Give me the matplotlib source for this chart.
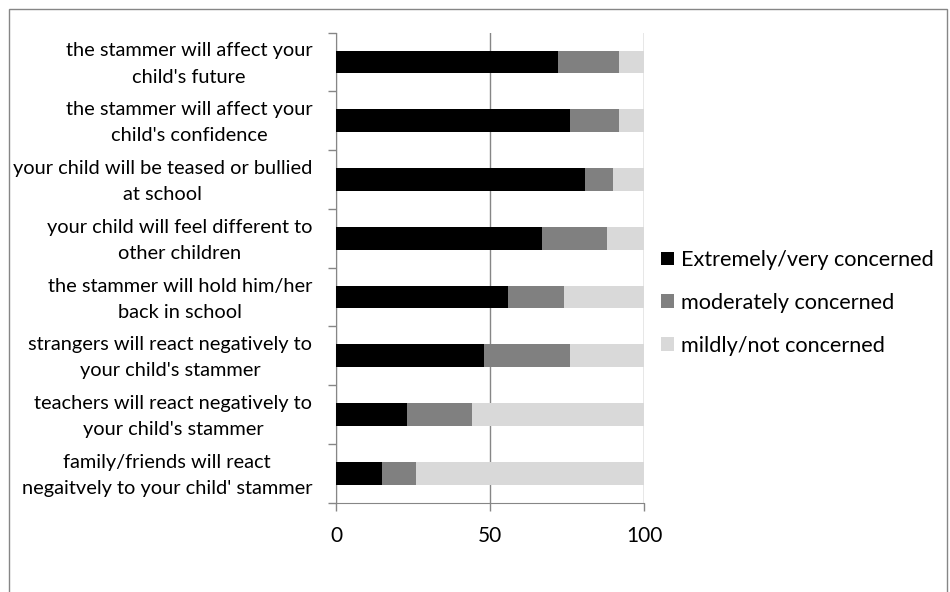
import matplotlib
matplotlib.use("Agg")
import matplotlib.pyplot as plt
import matplotlib.transforms as mtransforms
from matplotlib.patches import Patch, Rectangle
import numpy as np

plt.rcParams['font.family'] = ['Lato', 'DejaVu Sans']

# concerns, top to bottom
concerns = [
    "the stammer will affect your\nchild's future",
    "the stammer will affect your\nchild's confidence",
    "your child will be teased or bullied\nat school",
    "your child will feel different to\nother children",
    "the stammer will hold him/her\nback in school",
    "strangers will react negatively to\nyour child's stammer",
    "teachers will react negatively to\nyour child's stammer",
    "family/friends will react\nnegaitvely to your child' stammer",
]
extreme = [72, 76, 81, 67, 56, 48, 23, 15]
moderate = [20, 16, 9, 21, 18, 28, 21, 11]
mild = [8, 8, 10, 12, 26, 24, 56, 74]

series = ["Extremely/very concerned", "moderately concerned", "mildly/not concerned"]
colours = ["#000000", "#808080", "#d9d9d9"]

fig = plt.figure(figsize=(9.5, 5.92), dpi=100)
ax = fig.add_axes([336 / 950, 1 - 502.7 / 592, 308 / 950, (502.7 - 32.6) / 592])

y = np.arange(len(concerns))
left = np.zeros(len(concerns))
for vals, col in zip([extreme, moderate, mild], colours):
    ax.barh(y, vals, left=left, height=0.39, color=col, zorder=3)
    left += np.array(vals)

ax.set_xlim(0, 100)
ax.set_ylim(len(concerns) - 0.5, -0.5)
ax.set_xticks([0, 50, 100])
ax.set_yticks(np.arange(len(concerns) + 1) - 0.5, minor=True)
ax.set_yticks(y)
ax.set_yticklabels(concerns, multialignment='center', fontsize=14.4, linespacing=1.65)
ax.tick_params(axis='y', which='major', length=0, pad=17)
ax.tick_params(axis='y', which='minor', length=6, color='#868686', width=1)
ax.tick_params(axis='x', length=6, color='#868686', width=1, labelsize=15, pad=11)
ax.xaxis.grid(True, color='#868686', linewidth=1, zorder=0)
for side in ['top', 'right']:
    ax.spines[side].set_visible(False)
for side in ['left', 'bottom']:
    ax.spines[side].set_color('#868686')

# nudge the two-line category labels up a little
nudge = mtransforms.ScaledTranslation(0, 4 / 100, fig.dpi_scale_trans)
for lbl in ax.get_yticklabels():
    lbl.set_transform(lbl.get_transform() + nudge)

handles = [Patch(facecolor=c, edgecolor='none') for c in colours]
fig.legend(handles, series, loc='center left', bbox_to_anchor=(641 / 950, 1 - 303 / 592),
           frameon=False, fontsize=15.6, handlelength=0.6, handleheight=0.6,
           handletextpad=0.33, labelspacing=1.05)

# chart frame
fig.patches.append(Rectangle((8.5 / 950, -0.01), 938.5 / 950, 1.01 - 8.5 / 592,
                             transform=fig.transFigure, fill=False,
                             edgecolor='#868686', linewidth=1))

fig.savefig("out.png", dpi=100)
